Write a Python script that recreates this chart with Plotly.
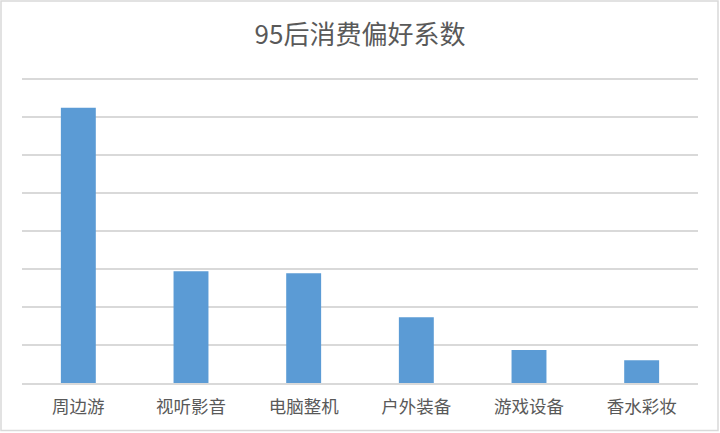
import plotly.graph_objects as go

CATEGORIES = ["周边游", "视听影音", "电脑整机", "户外装备", "游戏设备", "香水彩妆"]
VALUES = [7.24, 2.94, 2.89, 1.73, 0.87, 0.60]
TITLE = "95后消费偏好系数"

BAR_COLOR = "#5B9BD5"
GRID_COLOR = "#D9D9D9"
TEXT_COLOR = "#595959"
FONT = "Noto Sans CJK SC, Microsoft YaHei, sans-serif"

W, H = 720, 433
M = dict(l=22, r=22, t=77, b=50)

fig = go.Figure()
fig.add_trace(go.Bar(
    x=CATEGORIES,
    y=VALUES,
    marker=dict(color=BAR_COLOR, line=dict(width=0)),
    width=0.31,
    hoverinfo="x+y",
))

# thin grey frame around the whole chart, like the Excel chart area
pw = W - M["l"] - M["r"]
ph = H - M["t"] - M["b"]
fig.add_shape(
    type="rect", xref="paper", yref="paper",
    x0=(1 - M["l"]) / pw, x1=1 + (M["r"] - 2) / pw,
    y0=-(M["b"] - 2.5) / ph, y1=1 + (M["t"] - 1) / ph,
    line=dict(color=GRID_COLOR, width=1.5), fillcolor="rgba(0,0,0,0)",
    layer="below",
)

fig.update_layout(
    width=W, height=H,
    margin=dict(M, pad=0, autoexpand=False),
    paper_bgcolor="white",
    plot_bgcolor="white",
    font=dict(family=FONT, color=TEXT_COLOR, size=17.5),
    title=dict(
        text=TITLE,
        x=0.5, xanchor="center",
        y=1 - 35 / H, yanchor="middle",
        font=dict(family=FONT, size=26, color=TEXT_COLOR),
    ),
    showlegend=False,
    bargap=0.69,
    xaxis=dict(
        showgrid=False,
        showline=True, linecolor=GRID_COLOR, linewidth=1.5,
        ticks="", ticklabelstandoff=7,
        tickfont=dict(size=17.5, color=TEXT_COLOR),
        automargin=False,
        fixedrange=True,
    ),
    yaxis=dict(
        range=[0, 8.05],
        dtick=1,
        showgrid=True, gridcolor=GRID_COLOR, gridwidth=1.5,
        zeroline=False,
        showticklabels=False,
        ticks="",
        automargin=False,
        fixedrange=True,
    ),
)

# the browser's default 8px body margin would push the chart off the window
fig.write_html(
    "out.html",
    config={"displayModeBar": False},
    post_script="document.body.style.margin='0';",
)
